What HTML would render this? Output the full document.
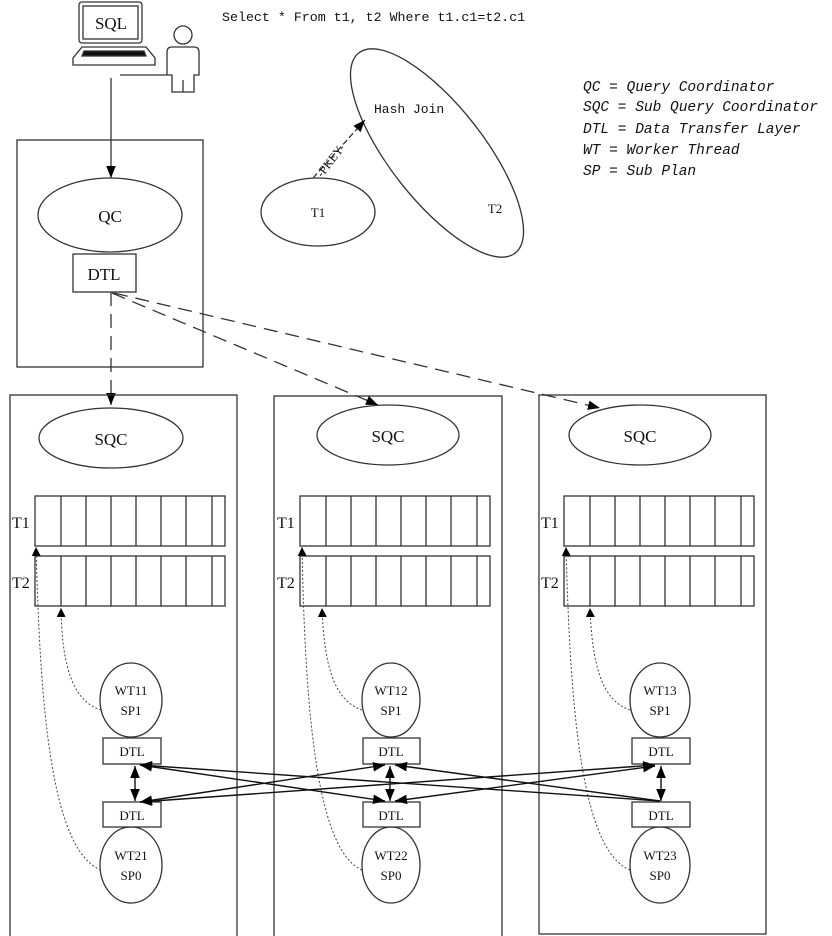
<!DOCTYPE html>
<html><head><meta charset="utf-8"><style>
html,body{margin:0;padding:0;background:#fff;}
svg{display:block;}
text{font-family:"Liberation Serif","Noto Serif CJK SC",serif;fill:#111;}
text.m{font-family:"Liberation Mono","Noto Sans CJK SC",monospace;}
</style></head><body>
<svg width="832" height="936" viewBox="0 0 832 936" xmlns="http://www.w3.org/2000/svg">
<defs>
<marker id="a" viewBox="0 0 10 10" refX="10" refY="5" markerWidth="9" markerHeight="9" orient="auto-start-reverse" markerUnits="userSpaceOnUse"><path d="M0,0 L10,5 L0,10 z" fill="#000"/></marker>
<marker id="s" viewBox="0 0 10 10" refX="10" refY="5" markerWidth="12" markerHeight="12" orient="auto-start-reverse" markerUnits="userSpaceOnUse"><path d="M0,1 L10,5 L0,9 z" fill="#000"/></marker>
</defs>
<g stroke="#333" fill="none" stroke-width="1.3">
<rect x="79" y="2" width="63" height="41" rx="3"/>
<rect x="83" y="6" width="55" height="33"/>
<path d="M82,47 L146,47 L155,58 L155,65 L73,65 L73,58 Z"/>
<path d="M84,51 L144,51 L146,56 L82,56 Z" fill="#111"/>
<circle cx="183" cy="35" r="9"/>
<path d="M172,47 L194,47 Q199,47 199,52 L199,75 L194,75 L194,92 L172,92 L172,75 L167,75 L167,52 Q167,47 172,47 Z"/>
<line x1="183" y1="80" x2="183" y2="92"/>
<line x1="120" y1="75" x2="167" y2="75"/>
<line x1="111" y1="78" x2="111" y2="178" marker-end="url(#s)"/>
<rect x="17" y="140" width="186" height="227"/>
<ellipse cx="110" cy="215" rx="72" ry="37"/>
<rect x="73" y="254" width="63" height="38"/>
<g stroke-dasharray="14,8">
<line x1="111" y1="292" x2="111" y2="405" marker-end="url(#s)"/>
<line x1="112" y1="293" x2="378" y2="405" marker-end="url(#s)"/>
<line x1="114" y1="293" x2="600" y2="408" marker-end="url(#s)"/>
</g>
<ellipse cx="437" cy="153" rx="127" ry="47" transform="rotate(52 437 153)"/>
<ellipse cx="318" cy="212" rx="57" ry="34"/>
<line x1="313" y1="178" x2="365" y2="120" stroke-dasharray="6,3" marker-end="url(#s)"/>
<rect x="10" y="395" width="227" height="545"/>
<rect x="274" y="396" width="228" height="545"/>
<rect x="539" y="395" width="227" height="539"/>
<ellipse cx="111" cy="438" rx="72" ry="30"/>
<ellipse cx="388" cy="435" rx="71" ry="30"/>
<ellipse cx="640" cy="435" rx="71" ry="30"/>
</g>
<g stroke="#333" fill="none" stroke-width="1.3" id="arr1">
<rect x="35" y="496" width="190" height="50"/><rect x="35" y="556" width="190" height="50"/>
<path d="M61,496V546M86,496V546M111,496V546M136,496V546M161,496V546M186,496V546M212,496V546M61,556V606M86,556V606M111,556V606M136,556V606M161,556V606M186,556V606M212,556V606"/>
</g>
<use href="#arr1" x="265"/>
<use href="#arr1" x="529"/>
<g stroke="#333" fill="#fff" stroke-width="1.3">
<ellipse cx="131" cy="700" rx="31" ry="37"/><ellipse cx="131" cy="865" rx="31" ry="38"/>
<ellipse cx="391" cy="700" rx="29" ry="37"/><ellipse cx="391" cy="865" rx="29" ry="38"/>
<ellipse cx="660" cy="700" rx="30" ry="37"/><ellipse cx="660" cy="865" rx="30" ry="38"/>
<rect x="103" y="738" width="58" height="26"/><rect x="103" y="802" width="58" height="25"/>
<rect x="363" y="738" width="57" height="26"/><rect x="363" y="802" width="57" height="25"/>
<rect x="632" y="738" width="58" height="26"/><rect x="632" y="802" width="58" height="25"/>
</g>
<g stroke="#444" fill="none" stroke-width="1" stroke-dasharray="2,2">
<path d="M101,710 C70,700 62,660 61,608" marker-end="url(#a)"/>
<path d="M101,870 C50,850 40,700 36,547" marker-end="url(#a)"/>
<path d="M362,710 C332,700 324,660 322,608" marker-end="url(#a)"/>
<path d="M362,870 C315,850 305,700 302,547" marker-end="url(#a)"/>
<path d="M630,710 C600,700 592,660 590,608" marker-end="url(#a)"/>
<path d="M630,870 C580,850 570,700 566,547" marker-end="url(#a)"/>
</g>
<g stroke="#111" stroke-width="1.4" fill="none">
<line x1="135" y1="766" x2="135" y2="801" marker-start="url(#s)" marker-end="url(#s)"/>
<line x1="390" y1="766" x2="390" y2="801" marker-start="url(#s)" marker-end="url(#s)"/>
<line x1="661" y1="766" x2="661" y2="801" marker-start="url(#s)" marker-end="url(#s)"/>
<line x1="140" y1="765" x2="385" y2="801" marker-start="url(#s)" marker-end="url(#s)"/>
<line x1="140" y1="765" x2="660" y2="801" marker-start="url(#s)"/>
<line x1="140" y1="802" x2="385" y2="765" marker-start="url(#s)" marker-end="url(#s)"/>
<line x1="140" y1="802" x2="655" y2="765" marker-start="url(#s)" marker-end="url(#s)"/>
<line x1="395" y1="765" x2="660" y2="801" marker-start="url(#s)"/>
<line x1="395" y1="801" x2="655" y2="766" marker-start="url(#s)" marker-end="url(#s)"/>
</g>
<g font-size="17" text-anchor="middle">
<text x="111" y="29">SQL</text>
<text x="110" y="222">QC</text>
<text x="104" y="280">DTL</text>
<text x="111" y="445">SQC</text>
<text x="388" y="442">SQC</text>
<text x="640" y="442">SQC</text>
</g>
<g font-size="16">
<text x="12" y="528">T1</text><text x="12" y="588">T2</text>
<text x="277" y="528">T1</text><text x="277" y="588">T2</text>
<text x="541" y="528">T1</text><text x="541" y="588">T2</text>
</g>
<g font-size="13" text-anchor="middle">
<text x="131" y="695">WT11</text><text x="131" y="715">SP1</text>
<text x="391" y="695">WT12</text><text x="391" y="715">SP1</text>
<text x="660" y="695">WT13</text><text x="660" y="715">SP1</text>
<text x="131" y="860">WT21</text><text x="131" y="880">SP0</text>
<text x="391" y="860">WT22</text><text x="391" y="880">SP0</text>
<text x="660" y="860">WT23</text><text x="660" y="880">SP0</text>
<text x="132" y="756">DTL</text><text x="132" y="820">DTL</text>
<text x="391" y="756">DTL</text><text x="391" y="820">DTL</text>
<text x="661" y="756">DTL</text><text x="661" y="820">DTL</text>
<text x="318" y="217" font-size="13">T1</text>
<text x="495" y="213" font-size="13">T2</text>
</g>
<text x="374" y="113" font-size="13" class="m">Hash Join</text>
<text x="0" y="0" font-size="12" transform="translate(322,178) rotate(-52)" fill="#444">-PKEY-</text>
<text x="222" y="21" font-size="13.3" class="m">Select * From t1, t2 Where t1.c1=t2.c1</text>
<g font-size="14.5" font-style="italic">
<text class="m" x="583" y="91">QC  = Query Coordinator</text>
<text class="m" x="583" y="111">SQC = Sub Query Coordinator</text>
<text class="m" x="583" y="133">DTL = Data Transfer Layer</text>
<text class="m" x="583" y="154">WT  = Worker Thread</text>
<text class="m" x="583" y="175">SP  = Sub Plan</text>
</g>
</svg>
</body></html>
